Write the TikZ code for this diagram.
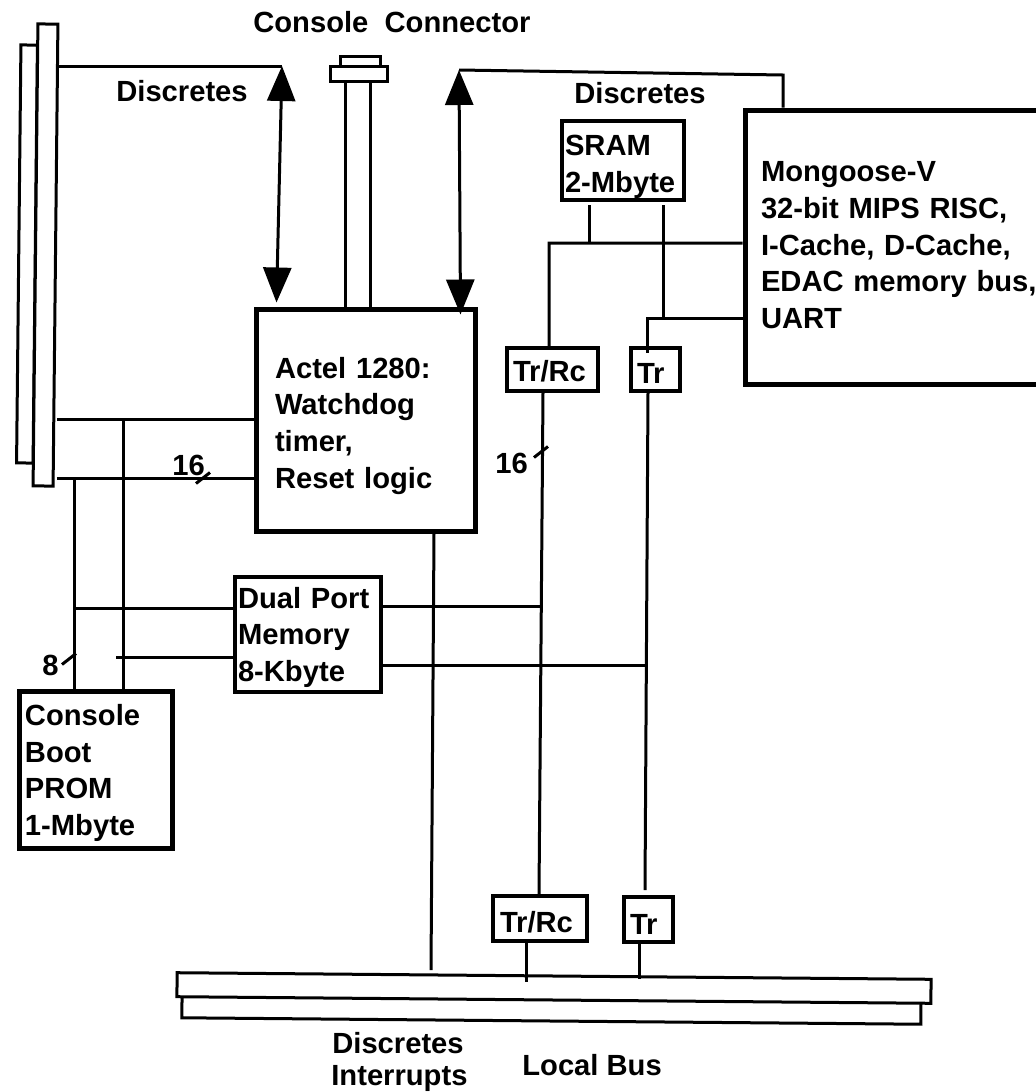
\documentclass[tikz,border=0pt]{standalone}
\usepackage{fontspec}
\setmainfont{Liberation Sans}
\usetikzlibrary{arrows.meta,calc}

\begin{document}
\begin{tikzpicture}[
  x=0.2mm,y=-0.2mm,
  font=\fontsize{16.6}{21}\selectfont\bfseries,
  block/.style={draw=black,line width=1mm,inner sep=0pt,align=left},
  smallblock/.style={block,line width=0.8mm},
  lowered/.style={execute at begin node={\rule{0pt}{#1}}},
  raised/.style={execute at end node={\rule[-#1]{0pt}{#1}}},
  panel/.style={draw=black,line width=0.6mm,fill=white,inner sep=0pt},
  caption/.style={anchor=base west,inner sep=0pt},
  wire/.style={draw=black,line width=0.6mm},
  bothway/.style={{Triangle[length=7mm,width=5.6mm]}-{Triangle[length=7mm,width=5.6mm]},line width=0.6mm,draw=black}
]
  \useasboundingbox (0,0) rectangle (1036,1092);

  % card edge on the left, local bus at the bottom
  \node[panel,rotate=-0.6,minimum width=3.3mm,minimum height=83.6mm] (backedge) at (27,254) {};
  \node[panel,rotate=-0.6,minimum width=4mm,minimum height=92.4mm] (frontedge) at (45.5,255) {};
  \node[panel,rotate=-0.5,minimum width=147.8mm,minimum height=7.2mm] (backbus) at (551.5,1003) {};
  \node[panel,rotate=-0.5,minimum width=150.8mm,minimum height=4.8mm] (frontbus) at (554,988) {};

  % console connector
  \node[panel,minimum width=8mm,minimum height=2mm] (plug) at (360,61) {};
  \node[panel,minimum width=11.4mm,minimum height=3mm] (plate) at (358.5,73.5) {};

  \node[block,lowered=6.6mm,minimum width=43.8mm,minimum height=44.4mm,text width=36.2mm] (actel) at (365.5,420)
    {Actel 1280:\\Watchdog\\timer,\\Reset logic};
  \node[block,raised=0.8mm,minimum width=63mm,minimum height=54.8mm,text width=56.6mm] (mongoose) at (902.5,247)
    {Mongoose-V\\32-bit MIPS RISC,\\I-Cache, D-Cache,\\EDAC memory bus,\\UART};
  \node[smallblock,lowered=6.6mm,minimum width=24.4mm,minimum height=15.8mm,text width=23.2mm] (sram) at (623,160.5)
    {SRAM\\2-Mbyte};
  \node[smallblock,lowered=5.4mm,minimum width=29.2mm,minimum height=23mm,text width=28mm] (dualport) at (308,634.5)
    {Dual Port\\Memory\\8-Kbyte};
  \node[block,lowered=5.6mm,minimum width=30.4mm,minimum height=31.4mm,text width=28.4mm] (prom) at (96,769.5)
    {Console\\Boot\\PROM\\1-Mbyte};
  \node[smallblock,lowered=5mm,minimum width=18.2mm,minimum height=8.6mm,text width=15.8mm] (trrcup) at (552.5,369.5) {Tr/Rc};
  \node[smallblock,lowered=5.4mm,minimum width=9.8mm,minimum height=8.6mm,text width=7.4mm] (trup) at (655.5,369.5) {Tr};
  \node[smallblock,lowered=5.8mm,minimum width=18.8mm,minimum height=9mm,text width=16mm] (trrclow) at (540,918.5) {Tr/Rc};
  \node[smallblock,lowered=5.8mm,minimum width=9.8mm,minimum height=9mm,text width=7.4mm] (trlow) at (648.5,919.5) {Tr};

  \node[caption] (consolelabel) at (253,32) {Console\ \ Connector};
  \node[caption] (discleft) at (116,101) {Discretes};
  \node[caption] (discright) at (574,103) {Discretes};
  \node[caption] (sixteenleft) at (172,475) {16};
  \node[caption] (sixteenright) at (495,473) {16};
  \node[caption] (eight) at (42,675) {8};
  \node[caption] (discbottom) at (332,1053) {Discretes};
  \node[caption] (interrupts) at (331,1085) {Interrupts};
  \node[caption] (localbus) at (522,1075) {Local Bus};

  % junctions and loose ends
  \coordinate (lefttip) at (282,66);
  \coordinate (righttip) at (459,70);
  \coordinate (mongooseup) at (783,75);
  \coordinate (tapupper) at (123,419);
  \coordinate (taplower) at (74,478);
  \coordinate (dualupper) at (74,608);
  \coordinate (duallower) at (116,657);
  \coordinate (dualjoinup) at (543,606);
  \coordinate (dualjoinlow) at (648,665);
  \coordinate (businleft) at (549,243);
  \coordinate (uartbus) at (647,318);
  \coordinate (sramleft) at (589,205);
  \coordinate (sramright) at (663,205);
  \coordinate (busdisc) at (431,970);
  \coordinate (bustrrc) at (526,982);
  \coordinate (bustr) at (639,979);
  \coordinate (tick16left) at (203,478);
  \coordinate (tick16right) at (541,452);
  \coordinate (tick8) at (69,659);

  \draw[bothway] (lefttip) -- ([xshift=4.6mm,yshift=0.8mm]actel.north west);
  \draw[bothway] (righttip) -- ([xshift=-3.4mm,yshift=-1.6mm]actel.north east);
  \draw[wire] (frontedge.east |- lefttip) -- (lefttip);
  \draw[wire] (righttip) -- (mongooseup) -- (mongooseup |- mongoose.north);

  \draw[wire] ([xshift=-2.7mm]plate.south) -- ([xshift=-2.7mm]plate.south |- actel.north);
  \draw[wire] ([xshift=2.3mm]plate.south) -- ([xshift=2.3mm]plate.south |- actel.north);

  \draw[wire] (frontedge.east |- tapupper) -- (actel.west |- tapupper);
  \draw[wire] (frontedge.east |- taplower) -- (actel.west |- taplower);
  \draw[wire] (tapupper) -- (tapupper |- prom.north);
  \draw[wire] (taplower) -- (taplower |- prom.north);
  \draw[wire] (dualupper) -- (dualport.west |- dualupper);
  \draw[wire] (duallower) -- (dualport.west |- duallower);

  \draw[wire] (mongoose.west |- businleft) -- (businleft) -- ([xshift=-0.7mm]trrcup.north);
  \draw[wire] (sramleft) -- (sramleft |- businleft);
  \draw[wire] (sramright) -- (sramright |- uartbus);
  \draw[wire] (mongoose.west |- uartbus) -- (uartbus) -- ([yshift=-1.4mm]uartbus |- trup.north);

  \draw[wire] ([xshift=-1.9mm]trrcup.south) -- ([xshift=-0.2mm]trrclow.north);
  \draw[wire] ([xshift=-1.5mm]trup.south) -- ([xshift=-0.7mm,yshift=1mm]trlow.north);
  \draw[wire] (dualport.east |- dualjoinup) -- (dualjoinup);
  \draw[wire] (dualport.east |- dualjoinlow) -- (dualjoinlow);
  \draw[wire] ([xshift=13.7mm]actel.south) -- (busdisc);
  \draw[wire] (bustrrc |- trrclow.south) -- (bustrrc);
  \draw[wire] (bustr |- trlow.south) -- (bustr);

  \foreach \tickname in {tick16left,tick16right,tick8}
    \draw[wire] ([shift={(-1.4mm,-1.1mm)}]\tickname) -- ([shift={(1.4mm,1.1mm)}]\tickname);
\end{tikzpicture}
\end{document}
